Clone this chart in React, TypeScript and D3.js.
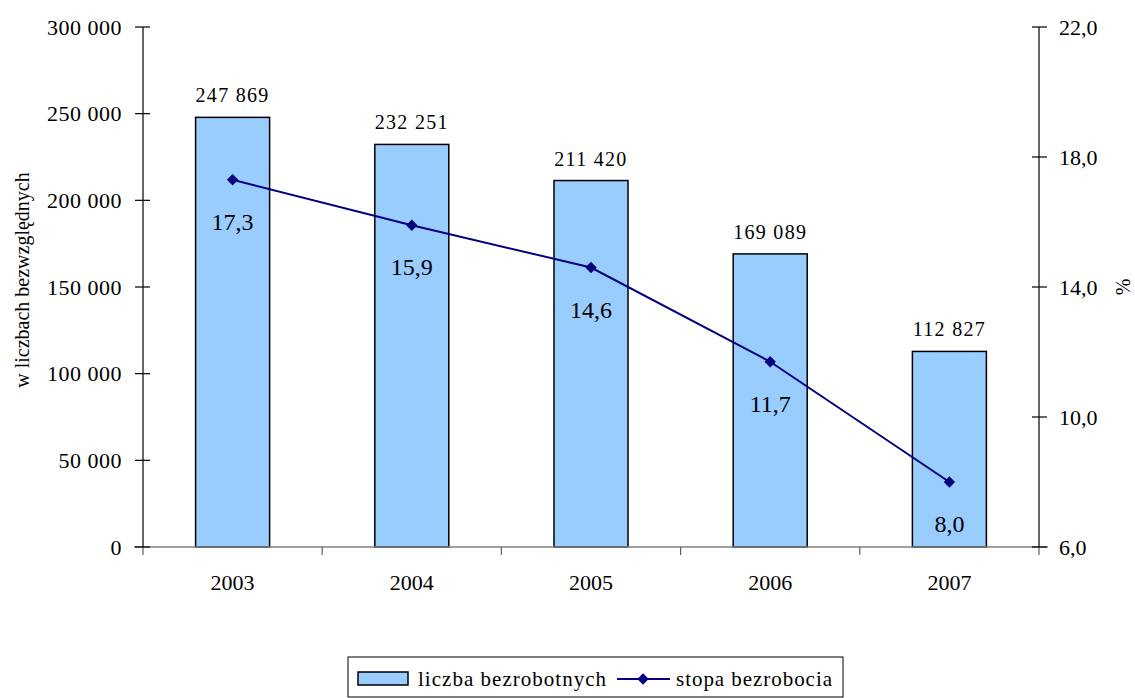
import * as d3 from "d3";
import { useEffect, useRef } from "react";

const years = ["2003", "2004", "2005", "2006", "2007"];
const unemployed = [247869, 232251, 211420, 169089, 112827];
const rate = [17.3, 15.9, 14.6, 11.7, 8.0];
const leftTicks = [0, 50000, 100000, 150000, 200000, 250000, 300000];
const rightTicks = [6, 10, 14, 18, 22];

const FONT = "'Liberation Serif', 'Times New Roman', Times, 'DejaVu Serif', serif";
const fmtThousands = (v: number) => d3.format(",")(v).replace(/,/g, " ");
const fmtPct = (v: number) => v.toFixed(1).replace(".", ",");

export default function App() {
  const ref = useRef<SVGSVGElement | null>(null);
  useEffect(() => {
    if (!ref.current) return;
    const svg = d3.select(ref.current);
    svg.selectAll("*").remove();

    const left = 143;
    const right = 1039;
    const top = 27;
    const bottom = 547;

    const x = d3.scaleBand().domain(years).range([left, right]).paddingInner(0).paddingOuter(0);
    const y = d3.scaleLinear().domain([0, 300000]).range([bottom, top]);
    const y2 = d3.scaleLinear().domain([6, 22]).range([bottom, top]);
    const barW = x.bandwidth() * 0.413;
    const cx = (d: string) => (x(d) ?? 0) + x.bandwidth() / 2;

    // bars
    svg.append("g")
      .selectAll("rect")
      .data(years)
      .enter()
      .append("rect")
      .attr("x", (d) => cx(d) - barW / 2)
      .attr("y", (_, i) => y(unemployed[i]))
      .attr("width", barW)
      .attr("height", (_, i) => bottom - y(unemployed[i]))
      .attr("fill", "#99CCFF")
      .attr("stroke", "#000")
      .attr("stroke-width", 1.5);

    // x axis line and category ticks
    svg.append("line")
      .attr("x1", 134).attr("x2", 1048)
      .attr("y1", bottom).attr("y2", bottom)
      .attr("stroke", "#808080").attr("stroke-width", 1.5);
    const bounds = years.map((d) => x(d) ?? 0).concat([right]);
    svg.append("g")
      .selectAll("line")
      .data(bounds)
      .enter()
      .append("line")
      .attr("x1", (d) => d).attr("x2", (d) => d)
      .attr("y1", bottom).attr("y2", bottom + 8)
      .attr("stroke", "#606060").attr("stroke-width", 1.2);
    svg.append("g")
      .selectAll("text")
      .data(years)
      .enter()
      .append("text")
      .attr("x", (d) => cx(d))
      .attr("y", 590)
      .attr("text-anchor", "middle")
      .attr("font-size", 22)
      .text((d) => d);

    // left axis
    const gl = svg.append("g");
    gl.append("line")
      .attr("x1", left).attr("x2", left).attr("y1", top).attr("y2", bottom)
      .attr("stroke", "#000").attr("stroke-width", 1.2);
    gl.selectAll("line.t")
      .data(leftTicks)
      .enter()
      .append("line")
      .attr("class", "t")
      .attr("x1", 135).attr("x2", 150)
      .attr("y1", (d) => y(d)).attr("y2", (d) => y(d))
      .attr("stroke", "#000").attr("stroke-width", 1.2);
    gl.selectAll("text")
      .data(leftTicks)
      .enter()
      .append("text")
      .attr("x", 122)
      .attr("y", (d) => y(d) + 7.5)
      .attr("text-anchor", "end")
      .attr("font-size", 22)
      .attr("letter-spacing", 0.5)
      .text((d) => fmtThousands(d));

    // right axis
    const gr = svg.append("g");
    gr.append("line")
      .attr("x1", right).attr("x2", right).attr("y1", top).attr("y2", bottom)
      .attr("stroke", "#000").attr("stroke-width", 1.2);
    gr.selectAll("line.t")
      .data(rightTicks)
      .enter()
      .append("line")
      .attr("class", "t")
      .attr("x1", 1032).attr("x2", 1047)
      .attr("y1", (d) => y2(d)).attr("y2", (d) => y2(d))
      .attr("stroke", "#000").attr("stroke-width", 1.2);
    gr.selectAll("text")
      .data(rightTicks)
      .enter()
      .append("text")
      .attr("x", 1059)
      .attr("y", (d) => y2(d) + 7.5)
      .attr("font-size", 22)
      .text((d) => fmtPct(d));

    // axis titles
    svg.append("text")
      .attr("transform", "translate(29,280) rotate(-90)")
      .attr("text-anchor", "middle")
      .attr("font-size", 20)
      .text("w liczbach bezwzględnych");
    svg.append("text")
      .attr("transform", "translate(1130,287) rotate(-90)")
      .attr("text-anchor", "middle")
      .attr("font-size", 20)
      .text("%");

    // bar labels
    svg.append("g")
      .selectAll("text")
      .data(years)
      .enter()
      .append("text")
      .attr("x", (d) => cx(d))
      .attr("y", (_, i) => y(unemployed[i]) - 15)
      .attr("text-anchor", "middle")
      .attr("font-size", 20)
      .attr("letter-spacing", 1.3)
      .text((_, i) => fmtThousands(unemployed[i]));

    // rate line
    const line = d3.line<number>()
      .x((_, i) => cx(years[i]))
      .y((d) => y2(d));
    svg.append("path")
      .datum(rate)
      .attr("d", line)
      .attr("fill", "none")
      .attr("stroke", "#000080")
      .attr("stroke-width", 2);
    const diamond = d3.symbol().type(d3.symbolSquare).size(64);
    svg.append("g")
      .selectAll("path")
      .data(rate)
      .enter()
      .append("path")
      .attr("d", diamond)
      .attr("transform", (d, i) => `translate(${cx(years[i])},${y2(d)}) rotate(45)`)
      .attr("fill", "#000080");
    svg.append("g")
      .selectAll("text")
      .data(rate)
      .enter()
      .append("text")
      .attr("x", (_, i) => cx(years[i]))
      .attr("y", (d) => y2(d) + 50)
      .attr("text-anchor", "middle")
      .attr("font-size", 24)
      .text((d) => fmtPct(d));

    // legend
    const lg = svg.append("g");
    lg.append("rect")
      .attr("x", 348).attr("y", 657).attr("width", 495).attr("height", 40)
      .attr("fill", "#fff").attr("stroke", "#000").attr("stroke-width", 1);
    lg.append("rect")
      .attr("x", 358).attr("y", 672).attr("width", 50).attr("height", 13)
      .attr("fill", "#99CCFF").attr("stroke", "#000").attr("stroke-width", 1.5);
    lg.append("text")
      .attr("x", 418).attr("y", 686)
      .attr("font-size", 21)
      .attr("textLength", 188)
      .attr("lengthAdjust", "spacing")
      .text("liczba bezrobotnych");
    lg.append("line")
      .attr("x1", 617).attr("x2", 670).attr("y1", 679).attr("y2", 679)
      .attr("stroke", "#000080").attr("stroke-width", 2);
    lg.append("path")
      .attr("d", diamond)
      .attr("transform", "translate(643,679) rotate(45)")
      .attr("fill", "#000080");
    lg.append("text")
      .attr("x", 676).attr("y", 686)
      .attr("font-size", 21)
      .attr("textLength", 156)
      .attr("lengthAdjust", "spacing")
      .text("stopa bezrobocia");

    svg.selectAll("text").style("font-family", FONT);
  }, []);
  return (
    <svg
      ref={ref}
      width={1135}
      height={698}
      viewBox="0 0 1135 698"
      style={{ position: "absolute", left: 0, top: 0, background: "#fff", fontFamily: FONT }}
    />
  );
}
